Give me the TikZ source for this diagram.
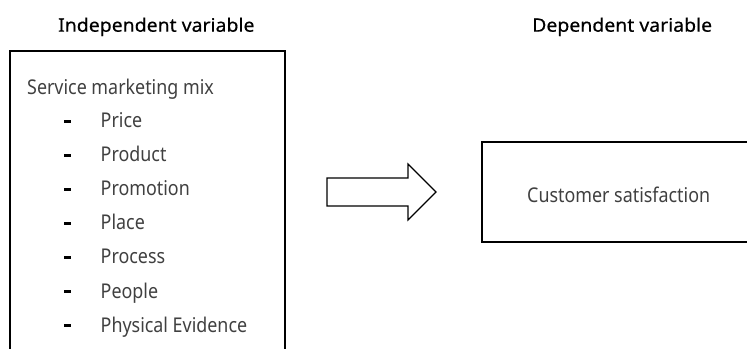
\documentclass[tikz,border=0pt]{standalone}
\usepackage{fontspec}
\setmainfont{Noto Sans}
\newfontfamily\headfont[FakeStretch=1.05, FakeBold=0.4]{Noto Sans}
\newfontfamily\bodyfont[FakeStretch=0.88]{Noto Sans}
\tikzset{
  frame/.style={draw=black, line width=1.2bp},
  heading/.style={font=\headfont\fontsize{18.6}{22}\selectfont, text=black, inner sep=0pt, anchor=base west},
  body/.style={font=\bodyfont\fontsize{20.4}{24}\selectfont, text=black!75, inner sep=0pt, anchor=base west},
  dashmark/.style={fill=black, minimum width=7bp, minimum height=3bp, inner sep=0pt},
}
\begin{document}
\begin{tikzpicture}[x=1bp,y=-1bp]
\useasboundingbox (0,0) rectangle (747,348);

% headings
\node[heading] (hin) at (58,31.7) {Independent variable};
\node[heading] (hdep) at (532,31.7) {Dependent variable};

% left box (runs off the bottom edge)
\coordinate (lb1) at (10,360);
\coordinate (lb2) at (10,51);
\coordinate (lb3) at (285,51);
\coordinate (lb4) at (285,360);
\draw[frame] (lb1) -- (lb2) -- (lb3) -- (lb4);

\node[body] (mix) at (27,94) {Service marketing mix};

\foreach \lbl [count=\i] in {Price,Product,Promotion,Place,Process,People,Physical Evidence}{
  \node[dashmark] (d\i) at (67,{121+34.15*(\i-1)}) {};
  \node[body] (it\i) at (100.5,{127.3+34.15*(\i-1)}) {\lbl};
}

% block arrow
\coordinate (a1) at (327,178);
\coordinate (a2) at (408,178);
\coordinate (a3) at (408,164);
\coordinate (a4) at (436,192);
\coordinate (a5) at (408,220);
\coordinate (a6) at (408,206);
\coordinate (a7) at (327,206);
\draw[frame, line join=miter] (a1) -- (a2) -- (a3) -- (a4) -- (a5) -- (a6) -- (a7) -- cycle;

% right box (runs off the right edge)
\coordinate (rb1) at (760,142);
\coordinate (rb2) at (482,142);
\coordinate (rb3) at (482,242);
\coordinate (rb4) at (760,242);
\draw[frame] (rb1) -- (rb2) -- (rb3) -- (rb4);

\node[body] (cs) at (527,202) {Customer satisfaction};
\end{tikzpicture}
\end{document}
